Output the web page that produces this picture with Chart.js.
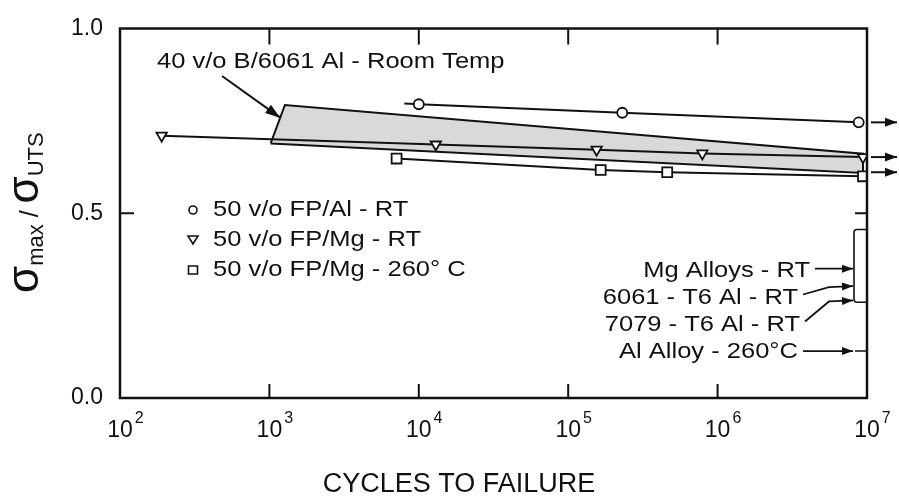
<!DOCTYPE html>
<html>
<head>
<meta charset="utf-8">
<script src="https://cdn.jsdelivr.net/npm/chart.js@4.4.1/dist/chart.umd.min.js"></script>
<style>
  html, body { margin: 0; padding: 0; background: #fff; }
  #wrap { width: 899px; height: 496px; position: relative; }
</style>
</head>
<body>
<div id="wrap"><canvas id="fatiga"></canvas></div>
<script>
// Ciclos a la falla (eje log) y relacion sigma_max / sigma_UTS
const cyclesAl = [8000, 1.0e4, 2.3e5, 8.8e6];
const ratioAl  = [0.797, 0.795, 0.772, 0.746];

const cyclesMgRT = [190, 1.3e4, 1.55e5, 7.9e5, 9.4e6];
const ratioMgRT  = [0.710, 0.686, 0.672, 0.662, 0.652];

const cyclesMg260 = [7100, 1.65e5, 4.6e5, 9.4e6];
const ratioMg260  = [0.648, 0.617, 0.611, 0.600];

// banda 40 v/o B/6061 Al (poligono cerrado)
const cyclesBand = [1020, 1270, 9.4e6, 9.4e6, 1020];
const ratioBand  = [0.689, 0.793, 0.661, 0.609, 0.689];

const seriesLabels = ['50 v/o FP/Al - RT', '50 v/o FP/Mg - RT', '50 v/o FP/Mg - 260° C'];
const bandLabel = '40 v/o B/6061 Al - Room Temp';

// flechas de "sin falla" a la derecha
const runoutRatio = [0.746, 0.652, 0.611];

// aleaciones de referencia: altura del texto y de la punta de flecha
const alloyLabels = ['Mg Alloys - RT', '6061 - T6 Al - RT', '7079 - T6 Al - RT', 'Al Alloy - 260°C'];
const alloyTextRatio  = [0.345, 0.272, 0.199, 0.124];
const alloyArrowRatio = [0.350, 0.303, 0.264, 0.127];
const alloyBand = [0.456, 0.259];

const xDecades = [2, 3, 4, 5, 6, 7];
const yTicks = [0, 0.5, 1.0];

const INK = '#111';
const FONT = '"Liberation Sans", Arial, Helvetica, sans-serif';
const SX = 1.16; // el texto del original es algo ancho

const pts = (xs, ys) => xs.map((x, i) => ({ x: x, y: ys[i] }));

function label(ctx, s, x, yc, align, size) {
    ctx.save();
    ctx.font = (size || 22) + 'px ' + FONT;
    ctx.textBaseline = 'middle';
    ctx.textAlign = align;
    ctx.translate(x, yc);
    ctx.scale(SX, 1);
    ctx.fillText(s, 0, 0);
    ctx.restore();
}

function arrowHead(ctx, x1, y1, x2, y2, len, half) {
    const a = Math.atan2(y2 - y1, x2 - x1);
    const bx = x2 - len * Math.cos(a), by = y2 - len * Math.sin(a);
    ctx.beginPath();
    ctx.moveTo(x2, y2);
    ctx.lineTo(bx + half * Math.sin(a), by - half * Math.cos(a));
    ctx.lineTo(bx - half * Math.sin(a), by + half * Math.cos(a));
    ctx.closePath();
    ctx.fill();
}

function arrow(ctx, path, len, half) {
    ctx.beginPath();
    ctx.moveTo(path[0][0], path[0][1]);
    for (let i = 1; i < path.length; i++) ctx.lineTo(path[i][0], path[i][1]);
    ctx.stroke();
    const n = path.length;
    arrowHead(ctx, path[n - 2][0], path[n - 2][1], path[n - 1][0], path[n - 1][1], len, half);
}

function marker(ctx, style, x, y) {
    ctx.save();
    ctx.lineWidth = 1.6;
    ctx.strokeStyle = INK;
    ctx.fillStyle = '#fff';
    ctx.beginPath();
    if (style === 'circle') ctx.arc(x, y, 4, 0, 2 * Math.PI);
    else if (style === 'triangle') { ctx.moveTo(x - 5, y - 4); ctx.lineTo(x + 5, y - 4); ctx.lineTo(x, y + 4); ctx.closePath(); }
    else ctx.rect(x - 4.5, y - 4, 9, 8);
    ctx.fill();
    ctx.stroke();
    ctx.restore();
}

// relleno gris de la banda, marco, ejes y notas
const notas = {
    id: 'notas',
    beforeDatasetsDraw(chart) {
        const ctx = chart.ctx;
        const meta = chart.getDatasetMeta(3);
        ctx.save();
        ctx.fillStyle = '#d9d9d9';
        ctx.beginPath();
        meta.data.forEach((p, i) => i ? ctx.lineTo(p.x, p.y) : ctx.moveTo(p.x, p.y));
        ctx.closePath();
        ctx.fill();
        ctx.restore();
    },
    afterDatasetsDraw(chart) {
        const ctx = chart.ctx;
        const a = chart.chartArea;
        const x = chart.scales.x, y = chart.scales.y;
        ctx.save();
        ctx.strokeStyle = INK;
        ctx.fillStyle = INK;

        // marco
        ctx.lineWidth = 2.5;
        ctx.strokeRect(a.left, a.top, a.right - a.left, a.bottom - a.top);

        // marcas hacia adentro
        ctx.lineWidth = 2;
        ctx.beginPath();
        xDecades.slice(1, -1).forEach(d => {
            const px = x.getPixelForValue(Math.pow(10, d));
            ctx.moveTo(px, a.bottom); ctx.lineTo(px, a.bottom - 14);
            ctx.moveTo(px, a.top); ctx.lineTo(px, a.top + 16);
        });
        yTicks.slice(1, -1).forEach(v => {
            const py = y.getPixelForValue(v);
            ctx.moveTo(a.left, py); ctx.lineTo(a.left + 14, py);
            ctx.moveTo(a.right, py); ctx.lineTo(a.right - 12, py);
        });
        ctx.stroke();

        // etiquetas 10^n
        xDecades.forEach(d => {
            const px = x.getPixelForValue(Math.pow(10, d));
            ctx.font = '23px ' + FONT;
            ctx.textAlign = 'center';
            ctx.textBaseline = 'alphabetic';
            const w = ctx.measureText('10').width;
            ctx.fillText('10', px, 437);
            ctx.font = '16px ' + FONT;
            ctx.textAlign = 'left';
            ctx.fillText(String(d), px + w / 2 + 2, 423);
        });

        // titulo eje x
        ctx.font = '27px ' + FONT;
        ctx.textAlign = 'center';
        ctx.textBaseline = 'alphabetic';
        ctx.fillText('CYCLES TO FAILURE', 459, 492);

        // titulo eje y con subindices
        ctx.save();
        ctx.translate(38, 293);
        ctx.rotate(-Math.PI / 2);
        ctx.textAlign = 'left';
        let cx = 0;
        const parte = (s, size, dy) => {
            ctx.font = size + 'px ' + FONT;
            ctx.fillText(s, cx, dy);
            cx += ctx.measureText(s).width;
        };
        parte('σ', 44, 0); parte('max', 22, 5); parte(' / ', 25, 0); parte('σ', 44, 0); parte('UTS', 22, 5);
        ctx.restore();

        // leyenda
        const estilos = ['circle', 'triangle', 'rect'];
        seriesLabels.forEach((t, i) => {
            const cy = 210 + i * 30;
            marker(ctx, estilos[i], 193, cy);
            label(ctx, t, 213, cy, 'left');
        });

        // etiqueta de la banda con flecha
        label(ctx, bandLabel, 157, 62, 'left');
        const bm = chart.getDatasetMeta(3).data;
        const tipX = bm[0].x + 0.67 * (bm[1].x - bm[0].x);
        const tipY = bm[0].y + 0.67 * (bm[1].y - bm[0].y);
        ctx.lineWidth = 2;
        arrow(ctx, [[222, 76], [tipX, tipY]], 15, 5);

        // flechas a la derecha del marco
        runoutRatio.forEach(r => {
            const py = y.getPixelForValue(r);
            arrow(ctx, [[a.right + 4, py], [a.right + 30, py]], 12, 4.5);
        });

        // aleaciones de referencia
        const tx = [a.right - 57, a.right - 69, a.right - 67, a.right - 69];
        ctx.lineWidth = 1.8;
        alloyLabels.forEach((t, i) => {
            const ty = y.getPixelForValue(alloyTextRatio[i]);
            const ay = y.getPixelForValue(alloyArrowRatio[i]);
            label(ctx, t, tx[i], ty, 'right');
            const sx = tx[i] + 5;
            const path = Math.abs(ay - ty) < 4
                ? [[sx, ay], [a.right - 14, ay]]
                : [[sx, ty - 3], [a.right - 38, ay + 1], [a.right - 14, ay]];
            arrow(ctx, path, 11, 4);
        });
        const yAl = y.getPixelForValue(alloyArrowRatio[3]);
        ctx.beginPath();
        ctx.moveTo(a.right - 12, yAl); ctx.lineTo(a.right, yAl);
        const b1 = y.getPixelForValue(alloyBand[0]), b2 = y.getPixelForValue(alloyBand[1]);
        ctx.moveTo(a.right, b1);
        ctx.lineTo(a.right - 10, b1);
        ctx.quadraticCurveTo(a.right - 13, b1, a.right - 13, b1 + 3);
        ctx.lineTo(a.right - 13, b2 - 3);
        ctx.quadraticCurveTo(a.right - 13, b2, a.right - 10, b2);
        ctx.lineTo(a.right, b2);
        ctx.lineWidth = 1.6;
        ctx.stroke();

        ctx.restore();
    }
};

Chart.defaults.font.family = FONT;
Chart.defaults.color = INK;

const ctx = document.getElementById('fatiga').getContext('2d');
new Chart(ctx, {
    type: 'line',
    data: {
        datasets: [{
            label: seriesLabels[0],
            data: pts(cyclesAl, ratioAl),
            borderColor: INK,
            borderWidth: 2,
            pointStyle: 'circle',
            pointRadius: [0, 5, 5, 5],
            pointBackgroundColor: '#fff',
            pointBorderColor: INK,
            pointBorderWidth: 1.8,
            fill: false
        }, {
            label: seriesLabels[1],
            data: pts(cyclesMgRT, ratioMgRT),
            borderColor: INK,
            borderWidth: 2,
            pointStyle: 'triangle',
            pointRotation: 180,
            pointRadius: 6,
            pointBackgroundColor: '#fff',
            pointBorderColor: INK,
            pointBorderWidth: 1.8,
            fill: false
        }, {
            label: seriesLabels[2],
            data: pts(cyclesMg260, ratioMg260),
            borderColor: INK,
            borderWidth: 2,
            pointStyle: 'rect',
            pointRadius: 7,
            pointBackgroundColor: '#fff',
            pointBorderColor: INK,
            pointBorderWidth: 1.8,
            fill: false
        }, {
            label: bandLabel,
            data: pts(cyclesBand, ratioBand),
            borderColor: INK,
            borderWidth: 2,
            pointRadius: 0,
            fill: false
        }]
    },
    options: {
        responsive: true,
        maintainAspectRatio: false,
        animation: false,
        events: [],
        layout: { padding: { top: 12, right: 32, left: 0, bottom: 0 } },
        plugins: {
            legend: { display: false },
            tooltip: { enabled: false }
        },
        scales: {
            x: {
                type: 'logarithmic',
                min: 100,
                max: 1e7,
                grid: { display: false, drawTicks: false },
                border: { display: false },
                ticks: { display: false },
                afterFit: s => { s.height = 98; }
            },
            y: {
                type: 'linear',
                min: 0,
                max: 1,
                grid: { display: false, drawTicks: false },
                border: { display: false },
                ticks: {
                    color: INK,
                    padding: 17,
                    font: { family: FONT, size: 23, lineHeight: 1 },
                    callback: v => Number(v).toFixed(1)
                },
                afterBuildTicks: s => { s.ticks = yTicks.map(v => ({ value: v })); },
                afterFit: s => { s.width = 120; }
            }
        }
    },
    plugins: [notas]
});
</script>
</body>
</html>
